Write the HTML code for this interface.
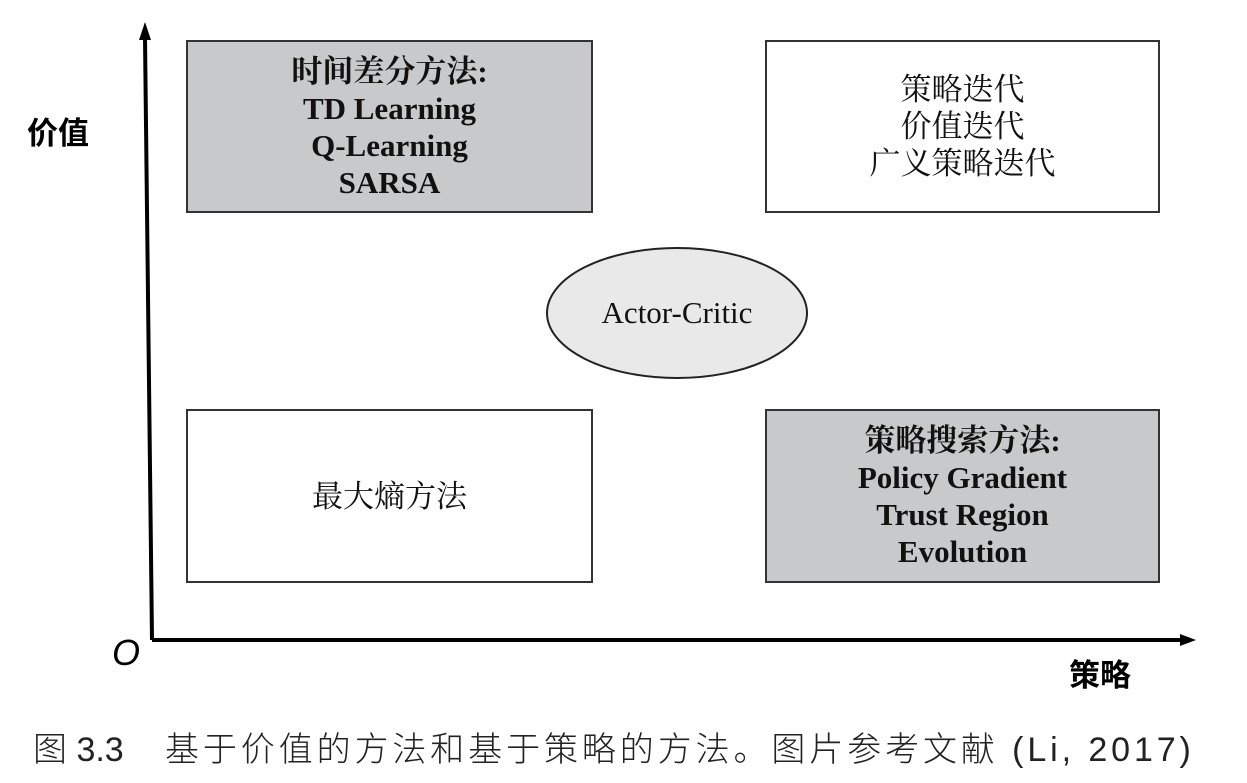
<!DOCTYPE html>
<html><head><meta charset="utf-8"><style>
body{margin:0;width:1247px;height:783px;background:#fff;position:relative;overflow:hidden;font-family:"Liberation Serif","Noto Serif CJK SC",serif;}
.b{position:absolute;border:2px solid #333;box-sizing:border-box;display:flex;flex-direction:column;justify-content:center;align-items:center;font-size:31px;line-height:37px;color:#111;}
.g{background:#c8c9cb;}
.bold{font-weight:bold;}
.t{position:absolute;white-space:nowrap;}
.cap{top:722px;font-size:34px;font-weight:300;color:#222;font-family:'Liberation Sans','Noto Sans CJK SC',sans-serif;}
</style></head><body>
<svg width="1247" height="783" style="position:absolute;left:0;top:0">
<line x1="145" y1="38" x2="152" y2="640" stroke="#000" stroke-width="4"/>
<polygon points="145,22 139,40 151,40" fill="#000"/>
<line x1="152" y1="640" x2="1182" y2="640" stroke="#000" stroke-width="4"/>
<polygon points="1196,640 1180,634 1180,646" fill="#000"/>
<ellipse cx="677" cy="313" rx="130" ry="65" fill="#e9e9e9" stroke="#222" stroke-width="2"/>
<text x="677" y="323" text-anchor="middle" font-family="Liberation Serif" font-size="31" fill="#111">Actor-Critic</text>
</svg>
<div class="b g bold" style="left:186px;top:40px;width:407px;height:173px;"><div>时间差分方法:</div><div>TD Learning</div><div>Q-Learning</div><div>SARSA</div></div>
<div class="b" style="left:765px;top:40px;width:395px;height:173px;"><div>策略迭代</div><div>价值迭代</div><div>广义策略迭代</div></div>
<div class="b" style="left:186px;top:409px;width:407px;height:174px;"><div>最大熵方法</div></div>
<div class="b g bold" style="left:765px;top:409px;width:395px;height:174px;"><div>策略搜索方法:</div><div>Policy Gradient</div><div>Trust Region</div><div>Evolution</div></div>
<div class="t" style="left:27px;top:108px;font-size:31px;font-weight:bold;font-family:'Liberation Sans','Noto Sans CJK SC',sans-serif;">价值</div>
<div class="t" style="left:112px;top:632px;font-size:36px;font-style:italic;font-family:'Liberation Sans',sans-serif;">O</div>
<div class="t" style="left:1069px;top:650px;font-size:31px;font-weight:bold;font-family:'Liberation Sans','Noto Sans CJK SC',sans-serif;">策略</div>
<div class="t cap" style="left:33px;">图 3.3</div>
<div class="t cap" style="left:165px;letter-spacing:3.9px;">基于价值的方法和基于策略的方法。图片参考文献 (Li, 2017)</div>
</body></html>
